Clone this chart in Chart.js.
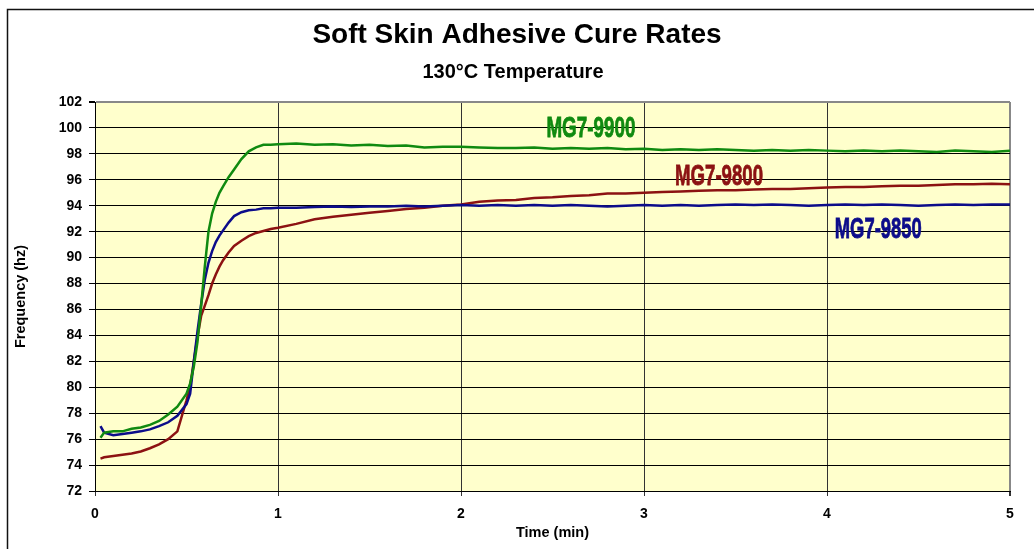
<!DOCTYPE html>
<html lang="en">
<head>
  <meta charset="UTF-8" />
  <title>Soft Skin Adhesive Cure Rates</title>
  <script src="https://cdn.jsdelivr.net/npm/chart.js"></script>
  <style>
    html, body { margin: 0; padding: 0; background: #fff; }
    #wrap { width: 1034px; height: 549px; }
  </style>
</head>
<body>
  <div id="wrap"><canvas id="cureChart" width="1034" height="549"></canvas></div>

  <script>
    // time in minutes (shared by all three series)
    const times = [0.03, 0.05, 0.1, 0.15, 0.2, 0.25, 0.3, 0.35, 0.4, 0.45, 0.5, 0.52, 0.54, 0.56,
      0.58, 0.6, 0.62, 0.64, 0.66, 0.68, 0.7, 0.73, 0.76, 0.8, 0.84, 0.88, 0.92, 0.96,
      1.0, 1.1, 1.2, 1.3, 1.4, 1.5, 1.6, 1.7, 1.8, 1.9, 2.0,
      2.1, 2.2, 2.3, 2.4, 2.5, 2.6, 2.7, 2.8, 2.9, 3.0,
      3.1, 3.2, 3.3, 3.4, 3.5, 3.6, 3.7, 3.8, 3.9, 4.0,
      4.1, 4.2, 4.3, 4.4, 4.5, 4.6, 4.7, 4.8, 4.9, 5.0];

    // frequency (hz)
    const mg9900 = [76.1, 76.5, 76.6, 76.6, 76.8, 76.9, 77.1, 77.4, 77.9, 78.5, 79.5, 80.3, 81.6, 83.5,
      86.3, 89.3, 92.0, 93.4, 94.3, 95.0, 95.5, 96.2, 96.8, 97.6, 98.2, 98.5, 98.7, 98.7,
      98.75, 98.8, 98.7, 98.75, 98.65, 98.7, 98.6, 98.65, 98.5, 98.55, 98.55,
      98.5, 98.45, 98.45, 98.5, 98.4, 98.45, 98.4, 98.45, 98.35, 98.4,
      98.3, 98.35, 98.3, 98.35, 98.3, 98.25, 98.3, 98.25, 98.3, 98.25,
      98.2, 98.25, 98.2, 98.25, 98.2, 98.15, 98.25, 98.2, 98.15, 98.25];

    const mg9850 = [77.0, 76.5, 76.3, 76.4, 76.5, 76.6, 76.75, 77.0, 77.3, 77.8, 78.7, 79.5, 82.0, 84.3,
      86.4, 88.3, 89.6, 90.5, 91.2, 91.7, 92.1, 92.7, 93.2, 93.5, 93.65, 93.7, 93.8, 93.8,
      93.85, 93.85, 93.9, 93.95, 93.9, 93.95, 93.95, 94.0, 93.95, 94.0, 94.05,
      94.0, 94.05, 94.0, 94.05, 94.0, 94.05, 94.0, 93.95, 94.0, 94.05,
      94.0, 94.05, 94.0, 94.05, 94.1, 94.05, 94.1, 94.05, 94.0, 94.05,
      94.1, 94.05, 94.1, 94.05, 94.0, 94.05, 94.1, 94.05, 94.1, 94.1];

    const mg9800 = [74.5, 74.6, 74.7, 74.8, 74.9, 75.05, 75.3, 75.6, 76.0, 76.6, 79.0, 80.1, 82.0, 83.9,
      85.5, 86.3, 87.1, 88.0, 88.7, 89.3, 89.8, 90.4, 90.9, 91.3, 91.65, 91.9, 92.05, 92.2,
      92.3, 92.6, 92.95, 93.15, 93.3, 93.45, 93.6, 93.75, 93.85, 94.0, 94.1,
      94.3, 94.4, 94.45, 94.6, 94.65, 94.75, 94.8, 94.95, 94.95, 95.0,
      95.05, 95.1, 95.15, 95.2, 95.2, 95.25, 95.3, 95.3, 95.35, 95.4,
      95.45, 95.45, 95.5, 95.55, 95.55, 95.6, 95.65, 95.65, 95.7, 95.65];

    const seriesNames = ['MG7-9900', 'MG7-9850', 'MG7-9800'];
    const seriesColors = ['#108a10', '#0c0c8a', '#8c1212'];
    const yRange = [72, 102];
    const xRange = [0, 5];

    const FONT = "'Liberation Sans', Arial, sans-serif";

    function toPoints(arr) {
      return times.map((t, i) => ({ x: t, y: arr[i] }));
    }

    // frame, plot background, titles and the in-plot series labels
    const decor = {
      id: 'decor',
      beforeDraw(chart) {
        const { ctx, chartArea: a } = chart;
        ctx.save();
        ctx.fillStyle = '#ffffcc';
        ctx.fillRect(a.left, a.top, a.right - a.left, a.bottom - a.top);
        ctx.strokeStyle = '#111';
        ctx.lineWidth = 1.5;
        ctx.beginPath();
        ctx.moveTo(7.5, 600);
        ctx.lineTo(7.5, 9.5);
        ctx.lineTo(1100, 9.5);
        ctx.stroke();

        ctx.fillStyle = '#000';
        ctx.textAlign = 'center';
        ctx.textBaseline = 'alphabetic';
        ctx.font = 'bold 28px ' + FONT;
        ctx.fillText('Soft Skin Adhesive Cure Rates', 517, 43);
        ctx.font = 'bold 20px ' + FONT;
        ctx.fillText('130°C Temperature', 513, 78);
        ctx.restore();
      },
      afterDatasetsDraw(chart, args, opts) {
        const { ctx } = chart;
        const xs = chart.scales.x, ys = chart.scales.y;
        ctx.save();
        ctx.font = 'bold 29px ' + FONT;
        ctx.textBaseline = 'alphabetic';
        ctx.textAlign = 'left';
        opts.labels.forEach(l => {
          const px = xs.getPixelForValue(l.x);
          const py = ys.getPixelForValue(l.y);
          const w = ctx.measureText(l.text).width;
          const sx = l.width / w;
          ctx.save();
          ctx.translate(px - l.width / 2, py);
          ctx.scale(sx, 1);
          ctx.fillStyle = l.color;
          ctx.strokeStyle = l.color;
          ctx.lineWidth = 0.8;
          ctx.fillText(l.text, 0, 0);
          ctx.strokeText(l.text, 0, 0);
          ctx.restore();
        });
        ctx.restore();
      }
    };

    new Chart(document.getElementById('cureChart'), {
      type: 'line',
      data: {
        datasets: [
          { label: seriesNames[0], data: toPoints(mg9900), borderColor: seriesColors[0] },
          { label: seriesNames[1], data: toPoints(mg9850), borderColor: seriesColors[1] },
          { label: seriesNames[2], data: toPoints(mg9800), borderColor: seriesColors[2] }
        ]
      },
      options: {
        responsive: false,
        animation: false,
        devicePixelRatio: 1,
        layout: { padding: { top: 102, right: 24, left: 0, bottom: 0 } },
        elements: {
          point: { radius: 0 },
          line: { borderWidth: 2.5, tension: 0, fill: false }
        },
        scales: {
          x: {
            type: 'linear',
            min: xRange[0], max: xRange[1],
            afterFit(scale) { scale.height = 58; },
            ticks: { stepSize: 1, color: '#000', padding: 10, font: { family: FONT, size: 14, weight: 'bold' } },
            grid: {
              color: c => c.tick && c.tick.value === 5 ? '#888' : '#333',
              lineWidth: c => c.tick && c.tick.value === 5 ? 2 : 1,
              tickColor: '#333', tickLength: 5
            },
            border: { color: '#000', width: 1 },
            title: { display: true, text: 'Time (min)', color: '#000', padding: { top: 0, bottom: 7 },
              font: { family: FONT, size: 14.5, weight: 'bold' } }
          },
          y: {
            min: yRange[0], max: yRange[1],
            afterFit(scale) { scale.width = 95; },
            ticks: { stepSize: 2, color: '#000', padding: 7, font: { family: FONT, size: 14, weight: 'bold' } },
            grid: {
              color: c => c.tick && c.tick.value === 102 ? '#888' : '#000',
              lineWidth: c => c.tick && c.tick.value === 102 ? 2 : 1,
              tickColor: '#000', tickLength: 6
            },
            border: { color: '#000', width: 1 },
            title: { display: true, text: 'Frequency (hz)', color: '#000', padding: { top: 12, bottom: 0 },
              font: { family: FONT, size: 14.5, weight: 'bold' } }
          }
        },
        plugins: {
          legend: { display: false },
          tooltip: { enabled: false },
          decor: {
            labels: [
              { text: seriesNames[0], x: 2.71, y: 99.3, width: 89, color: '#108a10' },
              { text: seriesNames[2], x: 3.41, y: 95.6, width: 88, color: '#8c1212' },
              { text: seriesNames[1], x: 4.28, y: 91.5, width: 87, color: '#0c0c8a' }
            ]
          }
        }
      },
      plugins: [decor]
    });
  </script>
</body>
</html>
